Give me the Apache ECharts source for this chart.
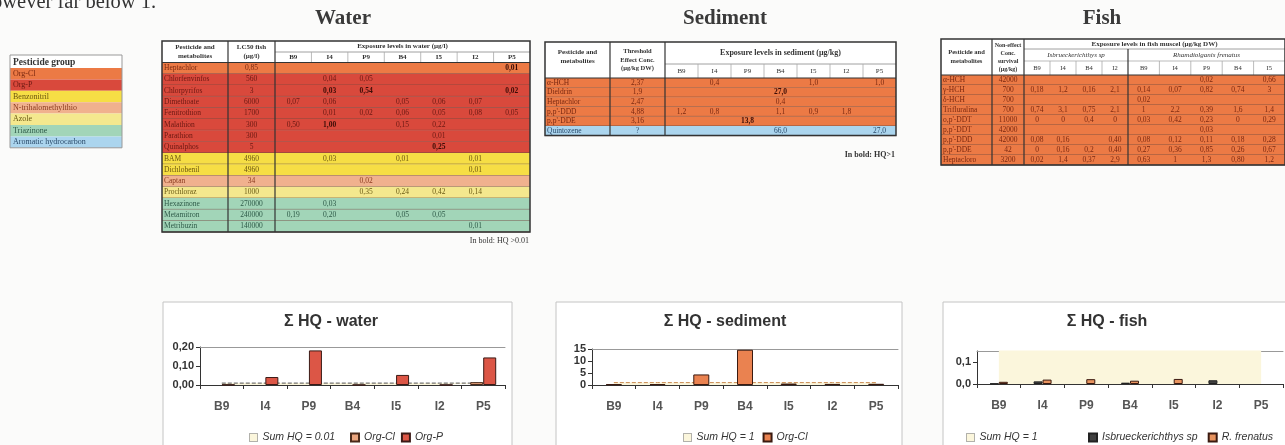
<!DOCTYPE html>
<html><head><meta charset="utf-8">
<script src="https://cdn.jsdelivr.net/npm/echarts@6/dist/echarts.min.js"></script>
<style>html,body{margin:0;padding:0;background:#fbfbfa}#c{width:1285px;height:445px}</style>
</head><body><div id="c"></div>
<script>
// ---------------- DATA ----------------
const sites = ['B9','I4','P9','B4','I5','I2','P5'];

const groupNames = ['Org-Cl','Org-P','Benzonitril','N-trihalomethylthio','Azole','Triazinone','Aromatic hydrocarbon'];

const waterNames = ['Heptachlor','Chlorfenvinfos','Chlorpyrifos','Dimethoate','Fenitrothion','Malathion','Parathion','Quinalphos','BAM','Dichlobenil','Captan','Prochloraz','Hexazinone','Metamitron','Metribuzin'];
const waterLC50 = ['0,85','560','3','6000','1700','300','300','5','4960','4960','34','1000','270000','240000','140000'];
const waterGroup = [0,1,1,1,1,1,1,1,2,2,3,4,5,5,5];
const waterLevels = [
  ['','','','','','','0,01'],
  ['','0,04','0,05','','','',''],
  ['','0,03','0,54','','','','0,02'],
  ['0,07','0,06','','0,05','0,06','0,07',''],
  ['','0,01','0,02','0,06','0,05','0,08','0,05'],
  ['0,50','1,00','','0,15','0,22','',''],
  ['','','','','0,01','',''],
  ['','','','','0,25','',''],
  ['','0,03','','0,01','','0,01',''],
  ['','','','','','0,01',''],
  ['','','0,02','','','',''],
  ['','','0,35','0,24','0,42','0,14',''],
  ['','0,03','','','','',''],
  ['0,19','0,20','','0,05','0,05','',''],
  ['','','','','','0,01','']
];
const waterBold = ['0-6','2-1','2-2','2-6','5-1','7-4'];

const sedNames = ['α-HCH','Dieldrin','Heptachlor',"p,p'-DDD","p,p'-DDE",'Quintozene'];
const sedThreshold = ['2,37','1,9','2,47','4,88','3,16','?'];
const sedGroup = [0,0,0,0,0,6];
const sedLevels = [
  ['','0,4','','','1,0','','1,0'],
  ['','','','27,0','','',''],
  ['','','','0,4','','',''],
  ['1,2','0,8','','1,1','0,9','1,8',''],
  ['','','13,8','','','',''],
  ['','','','66,0','','','27,0']
];
const sedBold = ['1-3','4-2'];

const fishNames = ['α-HCH','γ-HCH','δ-HCH','Trifluralina',"o,p'-DDT","p,p'-DDT","p,p'-DDD","p,p'-DDE",'Heptacloro'];
const fishNOEC = ['42000','700','700','700','11000','42000','42000','42','3200'];
const fishSitesIsb = ['B9','I4','B4','I2'];
const fishSitesRham = ['B9','I4','P9','B4','I5'];
const fishLevels = [
  ['','','','','','','0,02','','0,66'],
  ['0,18','1,2','0,16','2,1','0,14','0,07','0,82','0,74','3'],
  ['','','','','0,02','','','',''],
  ['0,74','3,1','0,75','2,1','1','2,2','0,39','1,6','1,4'],
  ['0','0','0,4','0','0,03','0,42','0,23','0','0,29'],
  ['','','','','','','0,03','',''],
  ['0,08','0,16','','0,40','0,08','0,12','0,11','0,18','0,28'],
  ['0','0,16','0,2','0,40','0,27','0,36','0,85','0,26','0,67'],
  ['0,02','1,4','0,37','2,9','0,63','1','1,3','0,80','1,2']
];

const hqWaterOrgCl = [null,null,null,null,null,null,0.015];
const hqWaterOrgP  = [0.002,0.042,0.182,0.001,0.053,0.001,0.145];
const sumWater     = [0.01,0.01,0.01,0.01,0.01,0.01,0.01];
const hqSedOrgCl   = [0.3,0.4,4.4,14.7,0.6,0.45,0.5];
const sumSed       = [1,1,1,1,1,1,1];
const hqFishIsb    = [0.002,0.012,null,0.006,null,0.017,null];
const hqFishRf     = [0.010,0.020,0.022,0.015,0.023,null,null];
const sumFish      = [1,1,1,1,1,1,1];

// ---------------- STYLE ----------------
const groupFill = ['#EC7A45','#D9493C','#F6DE45','#F0B18E','#F4E88E','#A2D5B8','#ABD5EE'];
const groupInk  = ['#7a2810','#6a1812','#6a5510','#8a3a1e','#6a5a14','#2e5a48','#2a4a6a'];
const SERIF = '"Liberation Serif"';
const G = [];
function R(x,y,w,h,fill,stroke,lw){G.push({type:'rect',silent:true,shape:{x:x,y:y,width:w,height:h},style:{fill:fill||'none',stroke:stroke||null,lineWidth:lw||0}});}
function L(x1,y1,x2,y2,stroke,lw){G.push({type:'line',silent:true,shape:{x1:x1,y1:y1,x2:x2,y2:y2},style:{stroke:stroke,lineWidth:lw}});}
function T(x,y,text,font,fill,align,lh){G.push({type:'text',silent:true,x:x,y:y,style:{text:text,font:font,fill:fill||'#333',align:align||'center',verticalAlign:'middle',lineHeight:lh||9}});}

// page text
G.push({type:'text',silent:true,x:156,y:13,style:{text:'however far below 1.',font:'20.5px '+SERIF,fill:'#333',align:'right',verticalAlign:'bottom'}});
T(343,19,'Water','bold 21px '+SERIF,'#3a3a3a');
T(725,19,'Sediment','bold 21px '+SERIF,'#3a3a3a');
T(1102,19,'Fish','bold 21px '+SERIF,'#3a3a3a');

// pesticide group legend box
(function(){
  const x=10,w=112,top=55,hh=13,rh=11.4;
  R(x,top,w,hh,'#fff');
  T(x+3,top+hh/2+1,'Pesticide group','bold 9.5px '+SERIF,'#333','left');
  groupNames.forEach((g,i)=>{
    const y=top+hh+i*rh;
    R(x,y,w,rh,groupFill[i]);
    T(x+3,y+rh/2,g,'8px '+SERIF,groupInk[i],'left');
  });
  R(x,top,w,hh+groupNames.length*rh,null,'#999',1);
})();

// generic body of a table
function body(left,right,fixedEdges,valEdges,top,rh,names,fixed,levels,groups,bold){
  names.forEach((n,i)=>{
    const y=top+i*rh, g=groups[i];
    R(left,y,right-left,rh,groupFill[g]);
    T(left+2,y+rh/2,n,'7.5px '+SERIF,groupInk[g],'left');
    T((fixedEdges[0]+fixedEdges[1])/2,y+rh/2,fixed[i],'7.5px '+SERIF,groupInk[g]);
    levels[i].forEach((v,j)=>{
      if(!v) return;
      const b=bold.indexOf(i+'-'+j)>=0;
      T((valEdges[j]+valEdges[j+1])/2,y+rh/2,v,(b?'bold ':'')+'7.5px '+SERIF,b?'#3a0c06':groupInk[g]);
    });
    L(left,y+rh,right,y+rh,'#6a4a40',0.8);
  });
}

// ---------- water table ----------
(function(){
  const left=162,right=530,c1=228,c2=275,top=41,h1=52,h2=62.5,rh=11.3;
  const sw=(right-c2)/7, edges=[]; for(let j=0;j<=7;j++) edges.push(c2+j*sw);
  R(left,top,right-left,h2-top,'#fff');
  T((left+c1)/2,(top+h2)/2,'Pesticide and\nmetabolites','bold 7px '+SERIF,'#333','center',9);
  T((c1+c2)/2,(top+h2)/2,'LC50 fish\n(µg/l)','bold 7px '+SERIF,'#333','center',9);
  T((c2+right)/2,(top+h1)/2,'Exposure levels in water (µg/l)','bold 7px '+SERIF,'#333');
  sites.forEach((s,j)=>T((edges[j]+edges[j+1])/2,(h1+h2)/2,s,'bold 7px '+SERIF,'#333'));
  L(c2,h1,right,h1,'#888',0.8);
  for(let j=1;j<7;j++) L(edges[j],h1,edges[j],h2,'#aaa',0.8);
  body(left,right,[c1,c2],edges,h2,rh,waterNames,waterLC50,waterLevels,waterGroup,waterBold);
  const bot=h2+rh*waterNames.length;
  L(left,h2,right,h2,'#333',1.2);
  L(c1,top,c1,bot,'#333',1.2); L(c2,top,c2,bot,'#333',1.2);
  R(left,top,right-left,bot-top,null,'#333',1.5);
  T(right-1,bot+9,'In bold: HQ >0.01','8px '+SERIF,'#333','right');
})();

// ---------- sediment table ----------
(function(){
  const left=545,right=896,c1=610,c2=665,top=42,h1=64,h2=78,rh=9.6;
  const sw=(right-c2)/7, edges=[]; for(let j=0;j<=7;j++) edges.push(c2+j*sw);
  R(left,top,right-left,h2-top,'#fff');
  T((left+c1)/2,(top+h2)/2-3,'Pesticide and\nmetabolites','bold 7px '+SERIF,'#333','center',9);
  T((c1+c2)/2,(top+h2)/2,'Threshold\nEffect Conc.\n(µg/kg DW)','bold 6.5px '+SERIF,'#333','center',8.5);
  T((c2+right)/2,(top+h1)/2,'Exposure levels in sediment (µg/kg)','bold 8px '+SERIF,'#333');
  sites.forEach((s,j)=>T((edges[j]+edges[j+1])/2,(h1+h2)/2,s,'7px '+SERIF,'#333'));
  L(c2,h1,right,h1,'#888',0.8);
  for(let j=1;j<7;j++) L(edges[j],h1,edges[j],h2,'#aaa',0.8);
  body(left,right,[c1,c2],edges,h2,rh,sedNames,sedThreshold,sedLevels,sedGroup,sedBold);
  const bot=h2+rh*sedNames.length;
  L(left,h2,right,h2,'#333',1.2);
  L(c1,top,c1,bot,'#333',1.2); L(c2,top,c2,bot,'#333',1.2);
  R(left,top,right-left,bot-top,null,'#333',1.5);
  T(right-1,bot+19,'In bold: HQ>1','bold 8px '+SERIF,'#333','right');
})();

// ---------- fish table ----------
(function(){
  const left=941,right=1285,c1=992,c2=1024,mid=1128,top=39,h1=49,h2=61,h3=75,rh=10;
  const edges=[]; const iw=(mid-c2)/4, rw=(right-mid)/5;
  for(let j=0;j<=4;j++) edges.push(c2+j*iw);
  for(let j=1;j<=5;j++) edges.push(mid+j*rw);
  R(left,top,right-left,h3-top,'#fff');
  T((left+c1)/2,(top+h3)/2,'Pesticide and\nmetabolites','bold 6.5px '+SERIF,'#333','center',8.5);
  T((c1+c2)/2,(top+h3)/2,'Non-effect\nConc.\nsurvival\n(µg/kg)','bold 6px '+SERIF,'#333','center',8);
  T((c2+right)/2,(top+h1)/2,'Exposure levels in fish muscel (µg/kg DW)','bold 7px '+SERIF,'#333');
  T((c2+mid)/2,(h1+h2)/2,'Isbrueckerichthys sp','italic 7px '+SERIF,'#333');
  T((mid+right)/2,(h1+h2)/2,'Rhamdiolganis frenatus','italic 7px '+SERIF,'#333');
  fishSitesIsb.concat(fishSitesRham).forEach((s,j)=>T((edges[j]+edges[j+1])/2,(h2+h3)/2,s,'6.5px '+SERIF,'#333'));
  L(c2,h1,right,h1,'#888',0.8); L(c2,h2,right,h2,'#aaa',0.8);
  for(let j=1;j<9;j++) if(j!==4) L(edges[j],h2,edges[j],h3,'#aaa',0.8);
  const g=fishNames.map(()=>0);
  body(left,right,[c1,c2],edges,h3,rh,fishNames,fishNOEC,fishLevels,g,[]);
  const bot=h3+rh*fishNames.length;
  L(left,h3,right,h3,'#333',1.2);
  L(c1,top,c1,bot,'#333',1.2); L(c2,top,c2,bot,'#333',1.2); L(mid,h1,mid,bot,'#333',1.2);
  R(left,top,right-left,bot-top,null,'#333',1.5);
})();

// chart frames + titles
R(163,302,349,150,'#fff','#c4c4c4',1);
R(556,302,346,150,'#fff','#c4c4c4',1);
R(943,302,350,150,'#fff','#c4c4c4',1);
T(331,322,'Σ HQ - water','bold 16px "Liberation Sans"','#333');
T(725,322,'Σ HQ - sediment','bold 16px "Liberation Sans"','#333');
T(1107,322,'Σ HQ - fish','bold 16px "Liberation Sans"','#333');

// ---------------- CHARTS ----------------
const grids=[
  {left:200,top:347,width:305,height:38},
  {left:592,top:349,width:306,height:36},
  {left:977,top:351,width:306,height:33}
];
function xMain(g){return {type:'category',gridIndex:g,data:sites,
  axisLine:{lineStyle:{color:'#333',width:1}},axisTick:{show:true,length:4,lineStyle:{color:'#333'}},
  axisLabel:{fontFamily:'Liberation Sans',fontWeight:'bold',fontSize:12,color:'#555',margin:16}};}
function xOver(g){return {type:'category',gridIndex:g,data:sites,position:'top',
  axisLine:{show:true,lineStyle:{color:'#999',width:1}},axisTick:{show:false},axisLabel:{show:false}};}
function yAx(g,max,interval,fmt){return {type:'value',gridIndex:g,min:0,max:max,interval:interval,
  splitLine:{show:false},axisLine:{show:true,lineStyle:{color:'#333'}},axisTick:{show:true,length:4,lineStyle:{color:'#333'}},
  axisLabel:{formatter:fmt,fontFamily:'Liberation Sans',fontWeight:'bold',fontSize:11,color:'#333',margin:6,showMaxLabel:g!==2}};}
const areaFill='#FBF6DC';
const sumIcon={icon:'rect',itemStyle:{color:areaFill,borderColor:'#666',borderWidth:1,borderType:'dotted'}};
const strip=n=>n.split('|')[1];
const legText={fontFamily:'Liberation Sans',fontStyle:'italic',fontSize:10.5,color:'#333'};
function leg(data,left,gap){return {data:data,left:left,top:427,itemWidth:8,itemHeight:8,itemGap:gap||8,formatter:strip,textStyle:legText,selectedMode:false,icon:'rect'};}
function sumSeries(name,xi,yi,data,lineColor){return {name:name,type:'line',xAxisIndex:xi,yAxisIndex:yi,data:data,symbol:'none',
  lineStyle:{color:lineColor,width:1,type:'dashed'},itemStyle:{color:areaFill},areaStyle:{color:areaFill,opacity:1},z:1};}

const option={
  animation:false,
  backgroundColor:'#fbfbfa',
  textStyle:{fontFamily:'Liberation Sans'},
  graphic:{elements:G},
  grid:grids,
  xAxis:[xMain(0),xOver(0),xMain(1),xOver(1),xMain(2),xOver(2)],
  yAxis:[
    yAx(0,0.2,0.1,v=>v.toFixed(2).replace('.',',')),
    yAx(1,15,5,v=>String(v)),
    yAx(2,0.15,0.1,v=>v.toFixed(1).replace('.',','))
  ],
  legend:[
    leg([Object.assign({name:'w|Sum HQ = 0.01'},sumIcon)],244),
    leg(['w|Org-Cl','w|Org-P'],345,6),
    leg([Object.assign({name:'s|Sum HQ = 1'},sumIcon),'s|Org-Cl'],678,8),
    leg([Object.assign({name:'f|Sum HQ = 1'},sumIcon)],961),
    leg(['f|Isbrueckerichthys sp','f|R. frenatus'],1083,10)
  ],
  series:[
    sumSeries('w|Sum HQ = 0.01',0,0,sumWater,'#555'),
    {name:'w|Org-Cl',type:'bar',xAxisIndex:0,yAxisIndex:0,data:hqWaterOrgCl,barWidth:13,barGap:'0%',itemStyle:{color:'#EBA57E',borderColor:'#4a2a1a',borderWidth:1},z:3},
    {name:'w|Org-P',type:'bar',xAxisIndex:0,yAxisIndex:0,data:hqWaterOrgP,barWidth:13,barGap:'0%',itemStyle:{color:'#DC5646',borderColor:'#3a1a16',borderWidth:1},z:3},
    sumSeries('s|Sum HQ = 1',2,1,sumSed,'#c98a50'),
    {name:'s|Org-Cl',type:'bar',xAxisIndex:2,yAxisIndex:1,data:hqSedOrgCl,barWidth:16,itemStyle:{color:'#EA8250',borderColor:'#3a1a10',borderWidth:1},z:3},
    sumSeries('f|Sum HQ = 1',4,2,sumFish,'#333'),
    {name:'f|Isbrueckerichthys sp',type:'bar',xAxisIndex:4,yAxisIndex:2,data:hqFishIsb,barWidth:9,barGap:'0%',itemStyle:{color:'#404040',borderColor:'#222',borderWidth:1},z:3},
    {name:'f|R. frenatus',type:'bar',xAxisIndex:4,yAxisIndex:2,data:hqFishRf,barWidth:9,barGap:'0%',itemStyle:{color:'#E8935E',borderColor:'#3a1a10',borderWidth:1},z:3}
  ]
};
const chart=echarts.init(document.getElementById('c'),null,{renderer:'canvas'});
chart.setOption(option);
</script></body></html>
